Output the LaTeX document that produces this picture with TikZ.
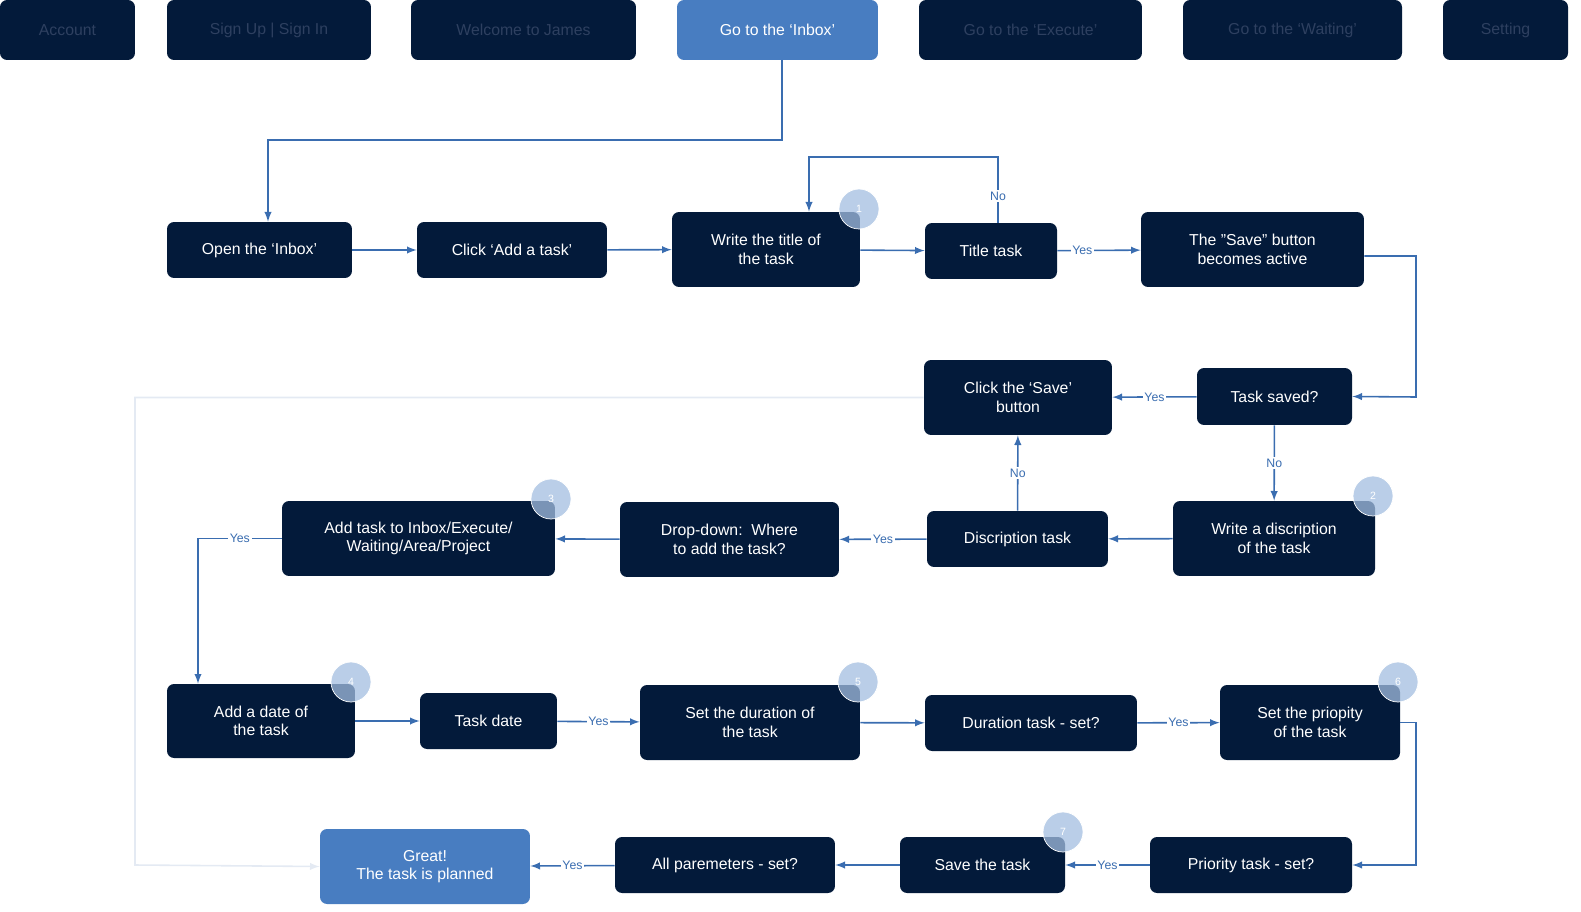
\documentclass[tikz,border=0pt]{standalone}
\usepackage{fontspec}
\setmainfont{Liberation Sans}
\usetikzlibrary{arrows}
\definecolor{Navy}{RGB}{3,26,58}
\definecolor{Sky}{RGB}{72,125,193}
\definecolor{Edge}{RGB}{58,109,176}
\definecolor{Dim}{RGB}{46,64,96}
\definecolor{Ghost}{RGB}{228,234,243}
\begin{document}
\begin{tikzpicture}[x=0.02cm,y=-0.02cm]
    \tikzset{ stp/.style ={fill=Navy, rounded corners=4pt, text=white, align=center, font=\fontsize{9}{10.5}\selectfont, inner sep=0pt} }
    \tikzset{ hot/.style ={stp, fill=Sky} }
    \tikzset{ bar/.style ={stp, text=Dim} }
    \tikzset{ num/.style ={circle, fill=Sky!50, fill opacity=0.75, draw=white, text=white, text opacity=1, minimum size=0.8cm, inner sep=0pt, font=\fontsize{6}{7}\selectfont} }
    \tikzset{ lnk/.style ={draw=Edge, line width=0.9pt, ->, >=latex} }
    \tikzset{ ans/.style ={fill=white, text=Edge, inner sep=1pt, font=\fontsize{7}{8}\selectfont} }
    \useasboundingbox (0,0) rectangle (1581,912);

    % top bar
    \node[bar, minimum width=2.7cm,  minimum height=1.2cm] (acc) at ( 67.5,30) {Account};
    \node[bar, minimum width=4.08cm, minimum height=1.2cm] (sgn) at (  269,30) {Sign Up | Sign In};
    \node[bar, minimum width=4.5cm,  minimum height=1.2cm] (wel) at (523.5,30) {Welcome to James};
    \node[hot, minimum width=4.02cm, minimum height=1.2cm] (ibx) at (777.5,30) {Go to the ‘Inbox’};
    \node[bar, minimum width=4.46cm, minimum height=1.2cm] (exe) at (1030.5,30) {Go to the ‘Execute’};
    \node[bar, minimum width=4.38cm, minimum height=1.2cm] (wai) at (1292.5,30) {Go to the ‘Waiting’};
    \node[bar, minimum width=2.5cm,  minimum height=1.2cm] (set) at (1505.5,30) {Setting};

    % row 1
    \node[stp, minimum width=3.7cm,  minimum height=1.12cm] (opn) at (259.5,250) {Open the ‘Inbox’};
    \node[stp, minimum width=3.8cm,  minimum height=1.12cm] (add) at (  512,250) {Click ‘Add a task’};
    \node[stp, minimum width=3.76cm, minimum height=1.5cm]  (wtt) at (  766,249.5) {Write the title of\\the task};
    \node[stp, minimum width=2.64cm, minimum height=1.12cm] (ttl) at (  991,251) {Title task};
    \node[stp, minimum width=4.46cm, minimum height=1.5cm]  (act) at (1252.5,249.5) {The "Save" button\\becomes active};

    % row 2
    \node[stp, minimum width=3.76cm, minimum height=1.5cm]  (csv) at ( 1018,397.5) {Click the ‘Save’\\button};
    \node[stp, minimum width=3.1cm,  minimum height=1.14cm] (svd) at (1274.5,396.5) {Task saved?};

    % row 3
    \node[stp, minimum width=5.46cm, minimum height=1.5cm]  (tgt) at (418.5,538.5) {Add task to Inbox/Execute/\\Waiting/Area/Project};
    \node[stp, minimum width=4.38cm, minimum height=1.5cm]  (drp) at (729.5,539.5) {Drop-down:\ \ Where\\to add the task?};
    \node[stp, minimum width=3.62cm, minimum height=1.12cm] (dsc) at (1017.5,539) {Discription task};
    \node[stp, minimum width=4.04cm, minimum height=1.5cm]  (wds) at ( 1274,538.5) {Write a discription\\of the task};

    % row 4
    \node[stp, minimum width=3.76cm, minimum height=1.48cm] (wdt) at (  261,721) {Add a date of\\the task};
    \node[stp, minimum width=2.74cm, minimum height=1.12cm] (dte) at (488.5,721) {Task date};
    \node[stp, minimum width=4.4cm,  minimum height=1.5cm]  (wdr) at (  750,722.5) {Set the duration of\\the task};
    \node[stp, minimum width=4.24cm, minimum height=1.12cm] (dur) at ( 1031,723) {Duration task - set?};
    \node[stp, minimum width=3.6cm,  minimum height=1.5cm]  (wpr) at ( 1310,722.5) {Set the priopity\\of the task};

    % row 5
    \node[hot, minimum width=4.2cm,  minimum height=1.5cm]  (end) at (  425,866.5) {Great!\\The task is planned};
    \node[stp, minimum width=4.4cm,  minimum height=1.12cm] (all) at (  725,865) {All paremeters - set?};
    \node[stp, minimum width=3.3cm,  minimum height=1.12cm] (sav) at (982.5,865) {Save the task};
    \node[stp, minimum width=4.04cm, minimum height=1.12cm] (pri) at ( 1251,865) {Priority task - set?};

    % badges
    \node[num] (n1) at ( 859,209) {1};
    \node[num] (n2) at (1373,496) {2};
    \node[num] (n3) at ( 551,499) {3};
    \node[num] (n4) at ( 351,682) {4};
    \node[num] (n5) at ( 858,682) {5};
    \node[num] (n6) at (1398,682) {6};
    \node[num] (n7) at (1063,832) {7};

    \coordinate (ghost) at (135,865);
    \draw[draw=Ghost, line width=0.9pt, ->, >=latex] (csv.west) -| (ghost) -- (end.west);

    \draw[lnk] (782,60) |- (268,140) -- (opn.north -| 268,0);
    \draw[lnk] (opn) -- (add);
    \draw[lnk] (add) -- (wtt);
    \draw[lnk] (wtt) -- (ttl);
    \draw[lnk] (ttl) -- (act) node[ans, pos=0.3] {Yes};
    \draw[lnk] (ttl.north -| 998,0) |- (809,157) node[ans, pos=0.2] {No} -- (wtt.north -| 809,0);
    \draw[lnk] (act.east |- 0,256) -| (1416,397) -- (svd.east);
    \draw[lnk] (svd) -- (csv) node[ans, midway] {Yes};
    \draw[lnk] (svd) -- (wds) node[ans, midway] {No};
    \draw[lnk] (wds) -- (dsc);
    \draw[lnk] (dsc) -- (csv) node[ans, midway] {No};
    \draw[lnk] (dsc) -- (drp) node[ans, midway] {Yes};
    \draw[lnk] (drp) -- (tgt);
    \draw[lnk] (tgt.west) -| (wdt.north -| 198,0) node[ans, pos=0.25] {Yes};
    \draw[lnk] (wdt) -- (dte);
    \draw[lnk] (dte) -- (wdr) node[ans, midway] {Yes};
    \draw[lnk] (wdr) -- (dur);
    \draw[lnk] (dur) -- (wpr) node[ans, midway] {Yes};
    \draw[lnk] (wpr.east) -| (1416,865) -- (pri.east);
    \draw[lnk] (pri) -- (sav) node[ans, midway] {Yes};
    \draw[lnk] (sav) -- (all);
    \draw[lnk] (all) -- (end) node[ans, midway] {Yes};
\end{tikzpicture}
\end{document}
